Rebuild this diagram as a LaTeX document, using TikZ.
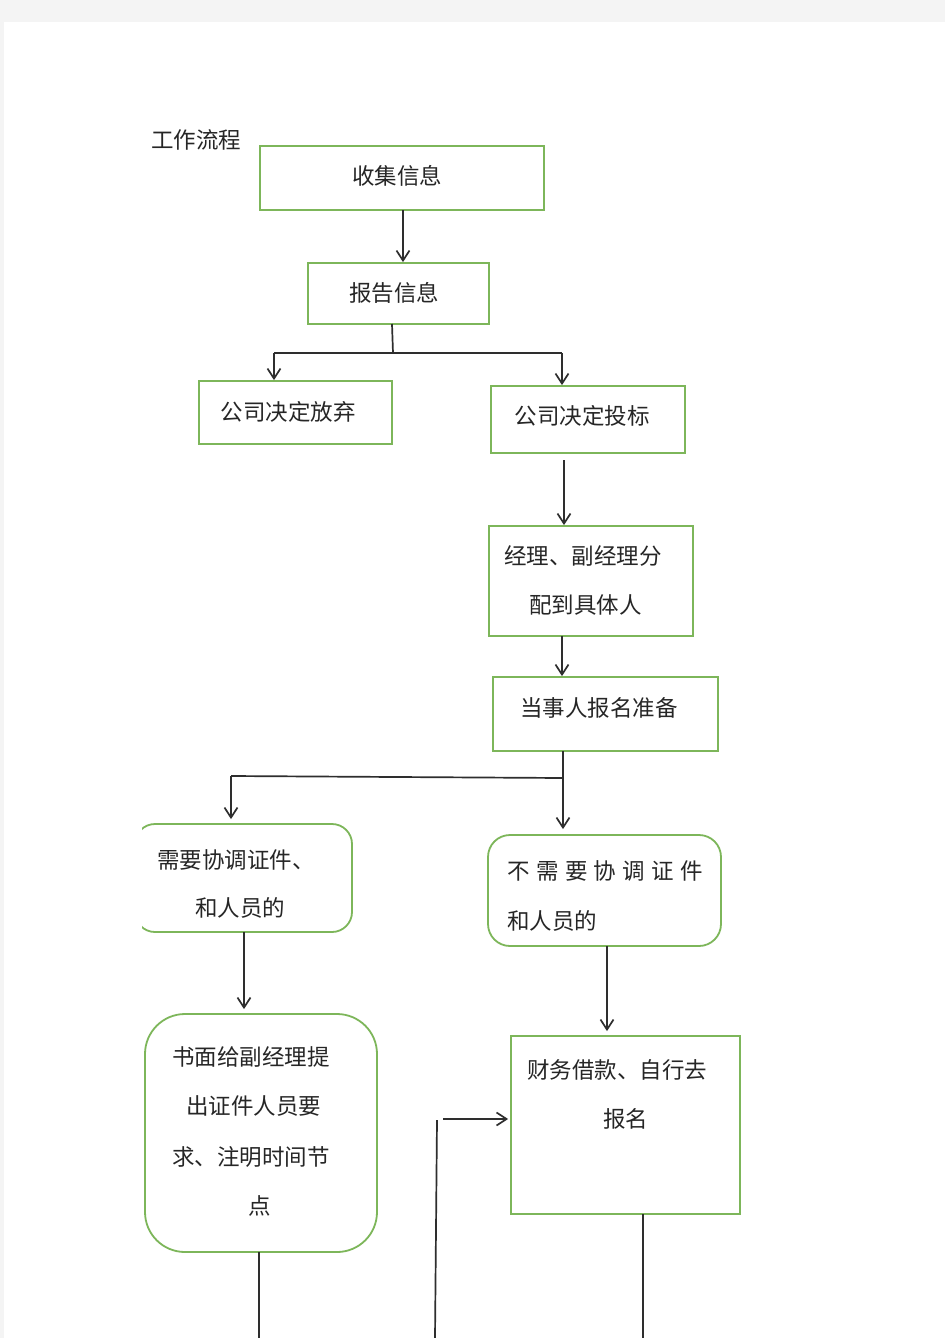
\documentclass[tikz,border=0pt]{standalone}
\usepackage{fontspec}
\newfontfamily\cjk{Noto Sans CJK SC}
\usetikzlibrary{arrows.meta}
\definecolor{boxgreen}{HTML}{7DB65A}
\definecolor{lineg}{HTML}{2E2E2E}
\definecolor{pagebg}{HTML}{F4F4F4}
\definecolor{txtc}{HTML}{262626}
\begin{document}
\begin{tikzpicture}[x=1pt,y=-1pt,
  box/.style={draw=boxgreen, line width=1.8pt, fill=white, inner sep=0pt},
  rbox/.style={box, rounded corners=#1},
  txt/.style={font=\cjk\fontsize{22.5}{49}\selectfont, text=txtc, inner sep=0pt},
  ln/.style={draw=lineg, line width=1.7pt},
  arr/.style={ln, -{Straight Barb[length=10pt,width=13pt,line width=1.7pt]}}]
\useasboundingbox (0,0) rectangle (945,1338);
\fill[pagebg] (0,0) rectangle (945,1338);
\fill[white] (4,22) rectangle (945,1338);

% title
\node[txt, anchor=west] (title) at (151,140) {工作流程};

% boxes
\node[box, minimum width=284pt, minimum height=64pt] (b1) at (402,178) {};
\node[box, minimum width=181pt, minimum height=61pt] (b2) at (398.5,293.5) {};
\node[box, minimum width=193pt, minimum height=63pt] (b3) at (295.5,412.5) {};
\node[box, minimum width=194pt, minimum height=67pt] (b4) at (588,419.5) {};
\node[box, minimum width=204pt, minimum height=110pt] (b5) at (591,581) {};
\node[box, minimum width=225pt, minimum height=74pt] (b6) at (605.5,714) {};
\begin{scope}
  \clip (142,800) rectangle (400,960);
  \node[rbox=20pt, minimum width=217pt, minimum height=108pt] (b7) at (243.5,878) {};
\end{scope}
\node[rbox=22pt, minimum width=233pt, minimum height=111pt] (b8) at (604.5,890.5) {};
\node[rbox=40pt, minimum width=232pt, minimum height=238pt] (b9) at (261,1133) {};
\node[box, minimum width=229pt, minimum height=178pt] (b10) at (625.5,1125) {};

% texts
\node[txt] (t1) at (397,176) {收集信息};
\node[txt] (t2) at (394,293) {报告信息};
\node[txt] (t3) at (288,412) {公司决定放弃};
\node[txt] (t4) at (582,416) {公司决定投标};
\node[txt] (t5a) at (583,556) {经理、副经理分};
\node[txt] (t5b) at (585.5,605) {配到具体人};
\node[txt] (t6) at (599,708) {当事人报名准备};
\node[txt, anchor=west] (t7a) at (157,860) {需要协调证件、};
\node[txt] (t7b) at (240,908) {和人员的};
\node[txt, anchor=west] (t8a) at (507,871) {\makebox[196pt]{不\hfill 需\hfill 要\hfill 协\hfill 调\hfill 证\hfill 件}};
\node[txt, anchor=west] (t8b) at (507,921) {和人员的};
\node[txt] (t9a) at (251,1057) {书面给副经理提};
\node[txt] (t9b) at (253.5,1106) {出证件人员要};
\node[txt] (t9c) at (251,1157) {求、注明时间节};
\node[txt] (t9d) at (260,1206) {点};
\node[txt] (t10a) at (617,1070) {财务借款、自行去};
\node[txt] (t10b) at (625.5,1119) {报名};

% connectors
\coordinate (c1) at (403,210);
\draw[arr] (c1) -- (c1 |- b2.north);

\coordinate (j0) at (392,324);
\coordinate (j1) at (393,353);
\coordinate (jl) at (274,353);
\coordinate (jr) at (562,353);
\draw[ln] (j0) -- (j1);
\draw[ln] (jl) -- (jr);
\draw[arr] (jl) -- (jl |- b3.north);
\draw[arr] (jr) -- (jr |- b4.north);

\coordinate (c4) at (564,460);
\draw[arr] (c4) -- (c4 |- b5.north);
\coordinate (c5) at (562,636);
\draw[arr] (c5) -- (c5 |- b6.north);

\coordinate (c6) at (563,751);
\coordinate (c6j) at (563,778);
\coordinate (c6l) at (231,776);
\draw[arr] (c6) -- ([yshift=5pt]c6 |- b8.north);
\draw[ln] (c6j) -- (c6l);
\draw[arr] (c6l) -- ([yshift=4pt]c6l |- b7.north);

\coordinate (c7) at (244,932);
\draw[arr] (c7) -- ([yshift=4pt]c7 |- b9.north);
\coordinate (c8) at (607,946);
\draw[arr] (c8) -- ([yshift=4pt]c8 |- b10.north);

\coordinate (c9) at (259,1252);
\coordinate (c9e) at (259,1338);
\draw[ln] (c9) -- (c9e);

\coordinate (l0) at (435,1338);
\coordinate (l1) at (437,1120);
\coordinate (l2) at (443,1119);
\draw[ln] (l0) -- (l1);
\draw[arr] (l2) -- ([xshift=-2pt]l2 -| b10.west);

\coordinate (c10) at (643,1214);
\coordinate (c10e) at (643,1338);
\draw[ln] (c10) -- (c10e);
\end{tikzpicture}
\end{document}
